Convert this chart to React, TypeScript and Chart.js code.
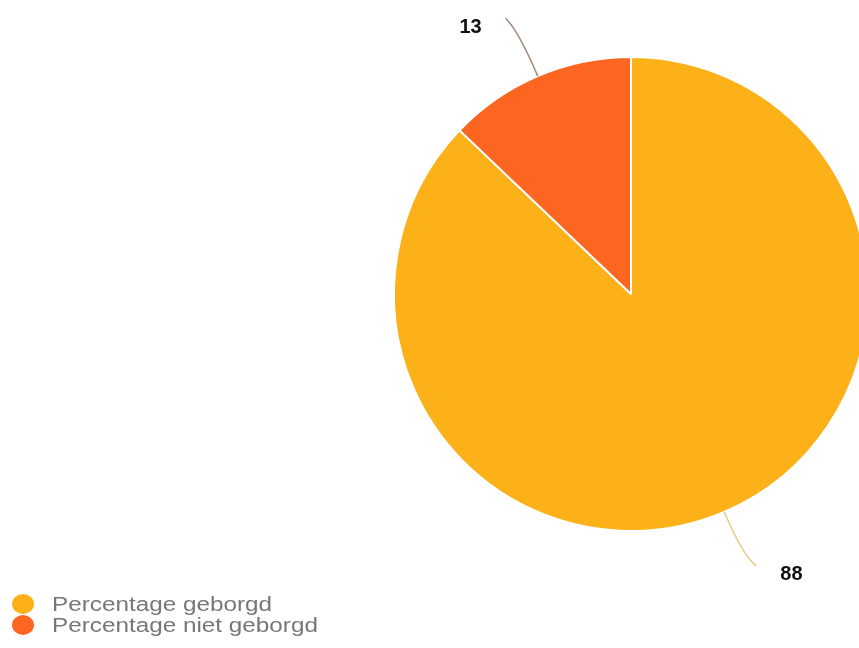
import React, { useEffect, useRef } from "react";
import { Chart, registerables } from "chart.js";

Chart.register(...registerables);

const categories = ["Percentage geborgd", "Percentage niet geborgd"];
const values = [88, 13];
const colors = ["#FBB117", "#FD6621"];
const leaderColors = ["#E6CE8A", "#A08878"];

const calloutPlugin = {
  id: "callouts",
  afterDraw(chart: any) {
    const ctx = chart.ctx as CanvasRenderingContext2D;
    const meta = chart.getDatasetMeta(0);
    meta.data.forEach((arc: any, i: number) => {
      const { x, y, outerRadius, startAngle, endAngle } = arc.getProps(
        ["x", "y", "outerRadius", "startAngle", "endAngle"],
        true
      );
      const mid = (startAngle + endAngle) / 2;
      const cos = Math.cos(mid);
      const sin = Math.sin(mid);
      const side = cos < 0 ? -1 : 1;
      const p0x = x + outerRadius * cos;
      const p0y = y + outerRadius * sin;
      const cx = x + (outerRadius + 50) * cos;
      const cy = y + (outerRadius + 50) * sin;
      const ex = x + (outerRadius + 64) * cos + side * 7;
      const ey = y + (outerRadius + 64) * sin + (sin < 0 ? 1 : -5);
      ctx.save();
      ctx.strokeStyle = leaderColors[i];
      ctx.lineWidth = 1.5;
      ctx.beginPath();
      ctx.moveTo(p0x, p0y);
      ctx.quadraticCurveTo(cx, cy, ex, ey);
      ctx.stroke();
      ctx.fillStyle = "#111";
      ctx.font = "bold 20px 'Liberation Sans', Arial, sans-serif";
      ctx.textBaseline = "middle";
      ctx.textAlign = "center";
      const lx = ex + side * 35;
      const ly = ey + 9;
      ctx.fillText(String(values[i]), lx, ly);
      ctx.restore();
    });

    // legend
    ctx.save();
    const rows = [604, 625];
    categories.forEach((label, i) => {
      ctx.fillStyle = colors[i];
      ctx.beginPath();
      ctx.ellipse(23, rows[i], 11, 10, 0, 0, Math.PI * 2);
      ctx.fill();
      ctx.save();
      ctx.font = "20px 'Liberation Sans', Arial, sans-serif";
      ctx.fillStyle = "#777";
      ctx.textBaseline = "middle";
      ctx.textAlign = "left";
      const w0 = ctx.measureText(categories[0]).width;
      const sx = 220 / w0;
      ctx.translate(52, rows[i] + 1);
      ctx.scale(sx, 1);
      ctx.fillText(label, 0, 0);
      ctx.restore();
    });
    ctx.restore();
  },
};

export default function App() {
  const ref = useRef<HTMLCanvasElement | null>(null);
  useEffect(() => {
    if (!ref.current) return;
    const chart = new Chart(ref.current, {
      type: "pie",
      data: {
        labels: categories,
        datasets: [
          {
            data: values,
            backgroundColor: colors,
            borderColor: "#ffffff",
            borderWidth: 2,
          },
        ],
      },
      options: {
        responsive: false,
        maintainAspectRatio: false,
        animation: false,
        devicePixelRatio: 1,
        layout: { padding: { left: 393, right: 31, top: 56, bottom: 116 } },
        plugins: {
          legend: { display: false },
          tooltip: { enabled: false },
        },
      },
      plugins: [calloutPlugin],
    });
    return () => chart.destroy();
  }, []);
  return (
    <div
      style={{
        position: "fixed",
        left: 0,
        top: 0,
        width: 859,
        height: 648,
        overflow: "hidden",
        background: "#fff",
      }}
    >
      <canvas ref={ref} width={900} height={648} style={{ width: 900, height: 648, display: "block" }} />
    </div>
  );
}
